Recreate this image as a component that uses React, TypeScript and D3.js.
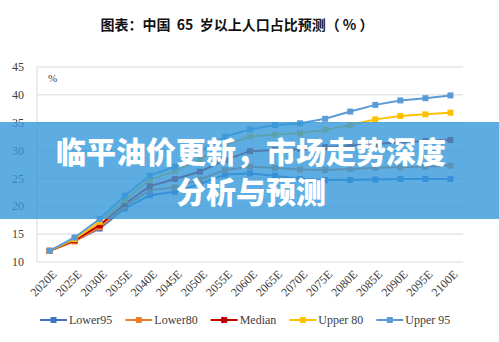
import React, { useEffect, useRef } from "react";
import * as d3 from "d3";

const categories = ["2020E","2025E","2030E","2035E","2040E","2045E","2050E","2055E","2060E","2065E","2070E","2075E","2080E","2085E","2090E","2095E","2100E"];
const lower95 = [12.0, 13.8, 16.0, 19.6, 22.0, 22.6, 24.0, 25.7, 25.9, 25.5, 24.9, 24.7, 24.7, 24.8, 24.9, 24.9, 24.9];
const lower80 = [12.0, 13.7, 16.2, 20.0, 22.9, 23.4, 24.8, 26.5, 27.1, 26.9, 26.6, 26.5, 26.7, 26.9, 27.0, 27.1, 27.3];
const median = [12.0, 13.9, 16.6, 20.4, 23.6, 24.9, 26.2, 28.3, 29.9, 30.1, 30.3, 30.6, 30.9, 31.2, 31.5, 31.7, 31.9];
const upper80 = [12.0, 14.1, 17.2, 21.1, 24.8, 26.3, 28.4, 31.0, 32.5, 32.9, 33.1, 33.7, 34.6, 35.6, 36.2, 36.5, 36.8];
const upper95 = [12.0, 14.4, 17.7, 21.9, 25.5, 27.1, 29.8, 32.5, 33.8, 34.6, 34.9, 35.7, 37.0, 38.2, 39.0, 39.4, 39.9];
const seriesNames = ["Lower95", "Lower80", "Median", "Upper 80", "Upper 95"];
const seriesColors = ["#4472C4", "#ED7D31", "#C00000", "#FFC000", "#5B9BD5"];
const yTicks = [10, 15, 20, 25, 30, 35, 40, 45];
const title = "图表：中国  65  岁以上人口占比预测（ % ）";
const bannerLines = ["临平油价更新，市场走势深度", "分析与预测"];

const SERIF = "'Liberation Serif', 'Times New Roman', serif";

export default function App() {
  const ref = useRef<SVGSVGElement>(null);
  useEffect(() => {
    const svg = d3.select(ref.current);
    svg.selectAll("*").remove();
    const W = 499, H = 342;
    const left = 37, right = 463, top = 67, bottom = 262;
    svg.append("rect").attr("width", W).attr("height", H).attr("fill", "#fff");

    const x = d3.scaleBand().domain(categories).range([left, right]);
    const y = d3.scaleLinear().domain([10, 45]).range([bottom, top]);
    const cx = (c: string) => (x(c) as number) + x.bandwidth() / 2;

    svg.append("text").attr("x", 237).attr("y", 30).attr("text-anchor", "middle")
      .attr("font-family", "'Noto Sans CJK SC', sans-serif").attr("font-weight", "bold")
      .attr("font-size", 14).attr("fill", "#111").style("white-space", "pre").text(title);

    const g = svg.append("g");
    g.selectAll("line.grid").data(yTicks).enter().append("line")
      .attr("x1", left).attr("x2", right).attr("y1", d => y(d)).attr("y2", d => y(d))
      .attr("stroke", "#d9d9d9").attr("stroke-width", 1);
    g.append("line").attr("x1", left).attr("x2", left).attr("y1", top).attr("y2", bottom)
      .attr("stroke", "#d9d9d9");
    g.selectAll("text.yt").data(yTicks).enter().append("text")
      .attr("x", 24).attr("y", d => y(d)).attr("dy", "0.35em").attr("text-anchor", "end")
      .attr("font-family", SERIF).attr("font-size", 12).attr("fill", "#404040")
      .text(d => d);
    g.append("text").attr("x", 48).attr("y", 82).attr("font-family", SERIF)
      .attr("font-size", 11).attr("fill", "#404040").text("%");

    g.selectAll("text.xt").data(categories).enter().append("text")
      .attr("transform", d => `translate(${cx(d) + 5},${bottom + 10}) rotate(-45)`)
      .attr("text-anchor", "end").attr("dy", "0.35em")
      .attr("font-family", SERIF).attr("font-size", 12).attr("fill", "#404040")
      .text(d => d);

    const all = [lower95, lower80, median, upper80, upper95];
    const line = d3.line<number>().x((_, i) => cx(categories[i])).y(d => y(d));
    all.forEach((vals, si) => {
      const s = svg.append("g");
      s.append("path").attr("d", line(vals) as string).attr("fill", "none")
        .attr("stroke", seriesColors[si]).attr("stroke-width", 2);
      s.selectAll("rect").data(vals).enter().append("rect")
        .attr("x", (_, i) => cx(categories[i]) - 3).attr("y", d => y(d) - 3)
        .attr("width", 6).attr("height", 6).attr("fill", seriesColors[si]);
    });

    const lg = svg.append("g");
    let lx = 40;
    const ly = 320;
    seriesNames.forEach((n, i) => {
      lg.append("line").attr("x1", lx).attr("x2", lx + 27).attr("y1", ly).attr("y2", ly)
        .attr("stroke", seriesColors[i]).attr("stroke-width", 2);
      lg.append("rect").attr("x", lx + 10.5).attr("y", ly - 3).attr("width", 6).attr("height", 6)
        .attr("fill", seriesColors[i]);
      const t = lg.append("text").attr("x", lx + 29).attr("y", ly).attr("dy", "0.35em")
        .attr("font-family", SERIF).attr("font-size", 12).attr("fill", "#404040")
        .text(n);
      const w = (t.node() as SVGTextElement).getComputedTextLength();
      lx += 29 + w + 13;
    });

    svg.append("rect").attr("x", 0).attr("y", 122).attr("width", W).attr("height", 97)
      .attr("fill", "rgba(52,152,219,0.8)");
    bannerLines.forEach((t, i) => {
      svg.append("text").attr("x", 251).attr("y", 152 + i * 40).attr("dy", "0.35em")
        .attr("text-anchor", "middle").attr("font-family", "'Noto Sans CJK SC', sans-serif")
        .attr("font-weight", 900).attr("font-size", 30).attr("fill", "#fff").text(t);
    });
  }, []);
  return (
    <svg ref={ref} width={499} height={342}
      style={{ position: "absolute", left: 0, top: 0, display: "block" }} />
  );
}
